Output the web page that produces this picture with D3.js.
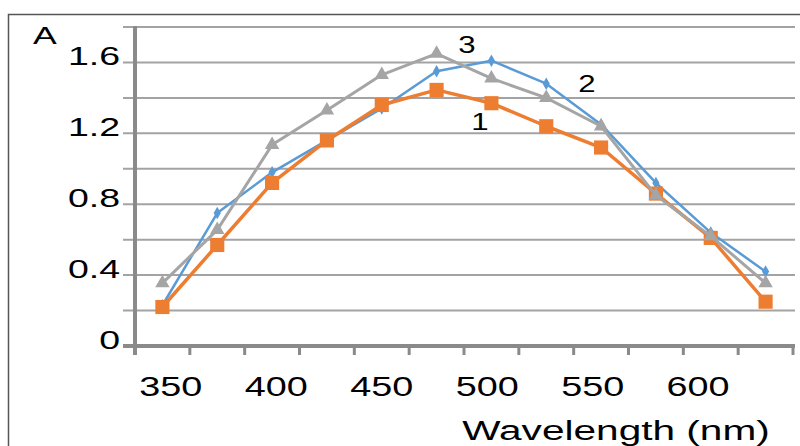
<!DOCTYPE html>
<html>
<head>
<meta charset="utf-8">
<script src="https://cdn.jsdelivr.net/npm/d3@7"></script>
<style>
  body { margin: 0; background: #fff; }
  text { font-family: "Liberation Sans", Arial, sans-serif; fill: #000; }
</style>
</head>
<body>
<svg id="chart" width="800" height="446"></svg>
<script>
// wavelengths (nm) of the 12 measured points
var wavelengths = [346, 372, 398, 424, 450, 476, 502, 528, 554, 580, 606, 632]

// absorbance of the three samples
var series1 = [0.22, 0.57, 0.92, 1.16, 1.36, 1.445, 1.37, 1.24, 1.12, 0.86, 0.61, 0.25]
var series2 = [0.23, 0.75, 0.98, 1.16, 1.34, 1.55, 1.61, 1.48, 1.25, 0.92, 0.64, 0.42]
var series3 = [0.355, 0.655, 1.135, 1.33, 1.53, 1.65, 1.51, 1.40, 1.24, 0.85, 0.62, 0.355]

var xTickLabels = [350, 400, 450, 500, 550, 600]
var yTickLabels = [0, 0.4, 0.8, 1.2, 1.6]
var yGrid = [0, 0.2, 0.4, 0.6, 0.8, 1.0, 1.2, 1.4, 1.6, 1.8]

var svg = d3.select('#chart')

// frame round the figure
svg.append('rect')
  .attr('x', 8.5).attr('y', 14.5)
  .attr('width', 820).attr('height', 460)
  .attr('fill', 'none').attr('stroke', '#555').attr('stroke-width', 1.5)

var step = 26
var x = d3.scaleLinear()
  .domain([wavelengths[0] - step / 2, wavelengths[wavelengths.length - 1] + step / 2])
  .range([135, 793])
var y = d3.scaleLinear().domain([0, 1.8]).range([346, 27])

// horizontal grid
svg.append('g').selectAll('line')
  .data(yGrid)
  .join('line')
    .attr('x1', 123).attr('x2', 795)
    .attr('y1', d => y(d)).attr('y2', d => y(d))
    .attr('stroke', '#a3a3a3').attr('stroke-width', 2)

// axes
var axisColor = '#8a8a8a'
svg.append('line')
  .attr('x1', x.range()[0]).attr('x2', x.range()[0])
  .attr('y1', y(1.8) - 1).attr('y2', 355)
  .attr('stroke', axisColor).attr('stroke-width', 4)
svg.append('line')
  .attr('x1', 123).attr('x2', 795)
  .attr('y1', y(0)).attr('y2', y(0))
  .attr('stroke', axisColor).attr('stroke-width', 4)

// category boundary ticks under the x axis
svg.append('g').selectAll('line')
  .data(d3.range(wavelengths.length + 1).map(i => x.domain()[0] + i * step))
  .join('line')
    .attr('x1', d => x(d)).attr('x2', d => x(d))
    .attr('y1', y(0)).attr('y2', 355)
    .attr('stroke', axisColor).attr('stroke-width', 3)

// tick labels, stretched wide like the picture
svg.append('g').selectAll('text')
  .data(yTickLabels)
  .join('text')
    .attr('transform', d => `translate(120,${y(d) - 4}) scale(1.5,1)`)
    .attr('text-anchor', 'end')
    .attr('dominant-baseline', 'middle')
    .attr('font-size', 25)
    .text(d => d)

svg.append('g').selectAll('text')
  .data(xTickLabels)
  .join('text')
    .attr('transform', d => `translate(${x(d)},396) scale(1.35,1)`)
    .attr('text-anchor', 'middle')
    .attr('font-size', 28)
    .text(d => d)

svg.append('text')
  .attr('transform', 'translate(616,440) scale(1.45,1)')
  .attr('text-anchor', 'middle')
  .attr('font-size', 28)
  .text('Wavelength (nm)')

svg.append('text')
  .attr('transform', 'translate(45,44) scale(1.55,1)')
  .attr('text-anchor', 'middle')
  .attr('font-size', 23)
  .text('A')

// series
var seriesList = [
  {name: '2', values: series2, color: '#5b9bd5', width: 2.5, symbol: d3.symbolDiamond, size: 45},
  {name: '1', values: series1, color: '#ed7d31', width: 3.5, symbol: d3.symbolSquare, size: 200},
  {name: '3', values: series3, color: '#a5a5a5', width: 3, symbol: d3.symbolTriangle, size: 90},
]

var line = d3.line()
  .x((d, i) => x(wavelengths[i]))
  .y(d => y(d))

seriesList.forEach(s => {
  var g = svg.append('g')
  g.append('path')
    .datum(s.values)
    .attr('d', line)
    .attr('fill', 'none')
    .attr('stroke', s.color)
    .attr('stroke-width', s.width)
    .attr('stroke-linejoin', 'round')
  g.selectAll('path.mark')
    .data(s.values)
    .join('path')
      .attr('class', 'mark')
      .attr('transform', (d, i) => `translate(${x(wavelengths[i])},${y(d)})`)
      .attr('d', d3.symbol().type(s.symbol).size(s.size))
      .attr('fill', s.color)
})

// curve numbers
var curveLabels = [
  {text: '3', x: 467, y: 53},
  {text: '2', x: 587, y: 92},
  {text: '1', x: 480, y: 130},
]
svg.append('g').selectAll('text')
  .data(curveLabels)
  .join('text')
    .attr('transform', d => `translate(${d.x},${d.y}) scale(1.3,1)`)
    .attr('text-anchor', 'middle')
    .attr('font-size', 24)
    .text(d => d.text)
</script>
</body>
</html>
